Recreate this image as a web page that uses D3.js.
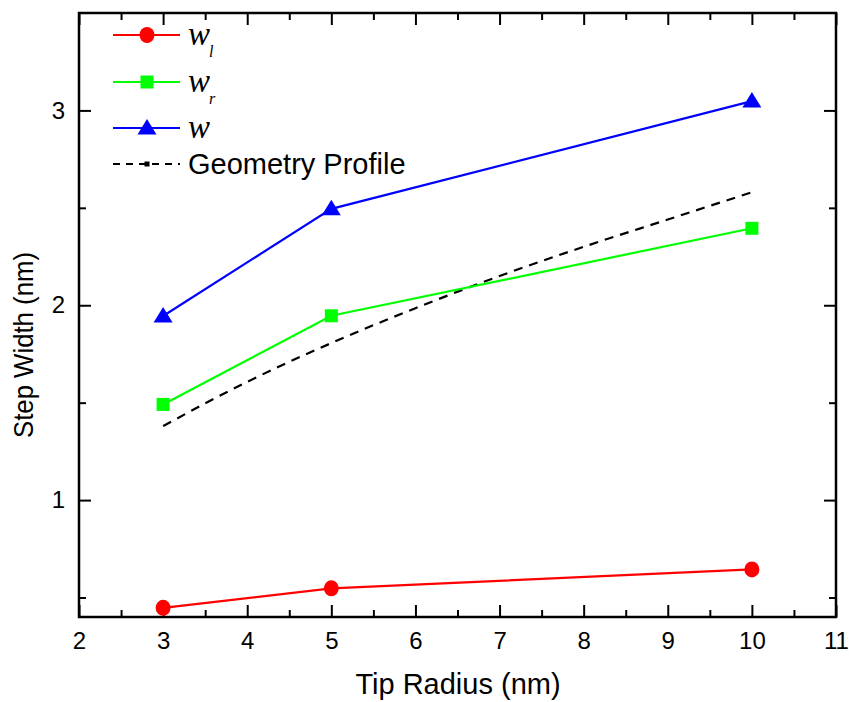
<!DOCTYPE html>
<html>
<head>
<meta charset="utf-8">
<script src="https://cdn.jsdelivr.net/npm/d3@7/dist/d3.min.js"></script>
<style>
  html, body { margin: 0; padding: 0; background: #fff; }
  svg { display: block; }
  text { font-family: "Liberation Sans", Arial, sans-serif; }
</style>
</head>
<body>
<svg id="chart" width="849" height="702"></svg>
<script>
// Tip radius (nm) for the measured series
const tipRadius = [3, 5, 10];
// Step widths (nm)
const wLeft  = [0.447, 0.547, 0.644];
const wRight = [1.491, 1.946, 2.395];
const wTotal = [1.945, 2.495, 3.048];
// Geometry profile (dashed curve)
const geoRadius = [3, 4, 5, 6, 7, 8, 9, 10];
const geoWidth  = [1.38, 1.607, 1.806, 1.985, 2.15, 2.30, 2.44, 2.58];
// Axis ticks
const xMajor = [2, 3, 4, 5, 6, 7, 8, 9, 10, 11];
const xMinor = [2.5, 3.5, 4.5, 5.5, 6.5, 7.5, 8.5, 9.5, 10.5];
const yMajor = [1, 2, 3];
const yMinor = [0.5, 1.5, 2.5];

const svg = d3.select("#chart");
const L = 79, R = 836, T = 13, B = 617;

const x = d3.scaleLinear().domain([2, 11]).range([L, R]);
const y = d3.scaleLinear().domain([0.4, 3.5]).range([B, T]);

// ---- axes (ticks point inward on all four sides)
function styleAxis(g) {
  g.selectAll(".domain").remove();
  g.selectAll(".tick line").attr("stroke", "#000").attr("stroke-width", 2);
  g.selectAll(".tick text").attr("fill", "#000").style("font-size", "24px")
    .style("font-family", "'Liberation Sans', Arial, sans-serif");
}

svg.append("g").attr("transform", `translate(0,${B})`)
  .call(d3.axisBottom(x).tickValues(xMajor).tickSize(-12).tickPadding(15).tickFormat(d3.format("d")))
  .call(styleAxis);
svg.append("g").attr("transform", `translate(0,${B})`)
  .call(d3.axisBottom(x).tickValues(xMinor).tickSize(-7).tickFormat(""))
  .call(styleAxis);
svg.append("g").attr("transform", `translate(0,${T})`)
  .call(d3.axisTop(x).tickValues(xMajor).tickSize(-12).tickFormat(""))
  .call(styleAxis);
svg.append("g").attr("transform", `translate(0,${T})`)
  .call(d3.axisTop(x).tickValues(xMinor).tickSize(-7).tickFormat(""))
  .call(styleAxis);

svg.append("g").attr("transform", `translate(${L},0)`)
  .call(d3.axisLeft(y).tickValues(yMajor).tickSize(-12).tickPadding(14).tickFormat(d3.format("d")))
  .call(styleAxis);
svg.append("g").attr("transform", `translate(${L},0)`)
  .call(d3.axisLeft(y).tickValues(yMinor).tickSize(-7).tickFormat(""))
  .call(styleAxis);
svg.append("g").attr("transform", `translate(${R},0)`)
  .call(d3.axisRight(y).tickValues(yMajor).tickSize(-12).tickFormat(""))
  .call(styleAxis);
svg.append("g").attr("transform", `translate(${R},0)`)
  .call(d3.axisRight(y).tickValues(yMinor).tickSize(-7).tickFormat(""))
  .call(styleAxis);

// frame
svg.append("rect")
  .attr("x", L).attr("y", T).attr("width", R - L).attr("height", B - T)
  .attr("fill", "none").attr("stroke", "#000").attr("stroke-width", 2.5);

// axis titles
svg.append("text")
  .attr("x", 458).attr("y", 694)
  .attr("text-anchor", "middle").style("font-size", "29px")
  .text("Tip Radius (nm)");
svg.append("text")
  .attr("transform", `translate(33,345) rotate(-90)`)
  .attr("text-anchor", "middle").style("font-size", "28px")
  .attr("textLength", 186).attr("lengthAdjust", "spacingAndGlyphs")
  .text("Step Width (nm)");

// ---- data
const lineGen = d3.line().x(d => x(d[0])).y(d => y(d[1]));
const zip = (a, b) => a.map((v, i) => [v, b[i]]);

const plot = svg.append("g");

plot.append("path").datum(zip(geoRadius, geoWidth))
  .attr("d", d3.line().curve(d3.curveMonotoneX).x(d => x(d[0])).y(d => y(d[1])))
  .attr("fill", "none").attr("stroke", "#000").attr("stroke-width", 2.2)
  .attr("stroke-dasharray", "9,7");

const series = [
  { vals: wLeft,  color: "#ff0000", shape: "circle" },
  { vals: wRight, color: "#00ff00", shape: "square" },
  { vals: wTotal, color: "#0000ff", shape: "triangle" }
];

function drawMarker(g, shape, color, cx, cy) {
  if (shape === "circle") {
    g.append("ellipse").attr("cx", cx).attr("cy", cy).attr("rx", 7.5).attr("ry", 8).attr("fill", color);
  } else if (shape === "square") {
    g.append("rect").attr("x", cx - 6.5).attr("y", cy - 6.5).attr("width", 13).attr("height", 13).attr("fill", color);
  } else {
    g.append("path")
      .attr("d", `M${cx},${cy - 9} L${cx + 9.5},${cy + 6.5} L${cx - 9.5},${cy + 6.5} Z`)
      .attr("fill", color);
  }
}

series.forEach(s => {
  const pts = zip(tipRadius, s.vals);
  plot.append("path").datum(pts).attr("d", lineGen)
    .attr("fill", "none").attr("stroke", s.color).attr("stroke-width", 2.2);
  pts.forEach(p => drawMarker(plot, s.shape, s.color, x(p[0]), y(p[1])));
});

// ---- legend
const legend = svg.append("g");
const lx0 = 113, lx1 = 180, lmx = 147, ltx = 188;
const rows = [
  { y: 35, color: "#ff0000", shape: "circle", sub: "l" },
  { y: 82, color: "#00ff00", shape: "square", sub: "r" },
  { y: 128, color: "#0000ff", shape: "triangle", sub: null }
];
rows.forEach(r => {
  legend.append("line").attr("x1", lx0).attr("x2", lx1).attr("y1", r.y).attr("y2", r.y)
    .attr("stroke", r.color).attr("stroke-width", 2.2);
  drawMarker(legend, r.shape, r.color, lmx, r.y);
  legend.append("text").attr("x", ltx).attr("y", r.y + 10)
    .style("font-family", "'Liberation Serif', 'Times New Roman', serif")
    .style("font-style", "italic").style("font-size", "33px")
    .text("w");
  if (r.sub) {
    legend.append("text").attr("x", 209).attr("y", r.y + 22)
      .style("font-family", "'Liberation Serif', 'Times New Roman', serif")
      .style("font-style", "italic").style("font-size", "16px")
      .text(r.sub);
  }
});
legend.append("line").attr("x1", lx0).attr("x2", lx1).attr("y1", 164).attr("y2", 164)
  .attr("stroke", "#000").attr("stroke-width", 2.2).attr("stroke-dasharray", "7,6");
legend.append("rect").attr("x", lmx - 2.5).attr("y", 161.5).attr("width", 5).attr("height", 5).attr("fill", "#000");
legend.append("text").attr("x", ltx).attr("y", 174).style("font-size", "29px").text("Geometry Profile");
</script>
</body>
</html>
